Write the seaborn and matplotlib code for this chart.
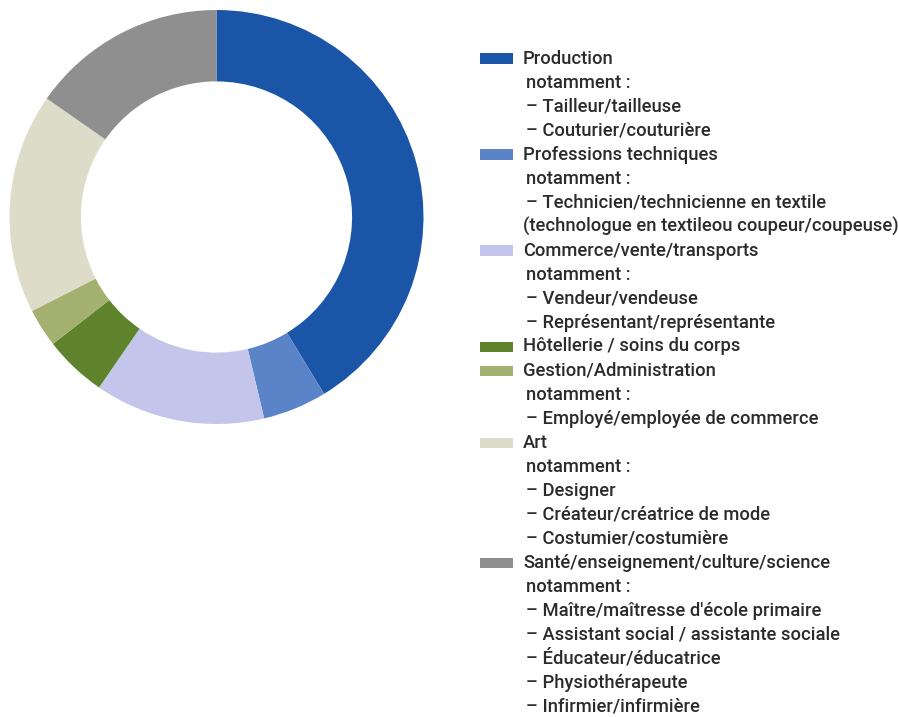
import matplotlib
matplotlib.use("Agg")
import matplotlib.pyplot as plt
from matplotlib.patches import Rectangle
import seaborn as sns

categories = ["Production", "Professions techniques", "Commerce/vente/transports",
              "Hôtellerie / soins du corps", "Gestion/Administration", "Art",
              "Santé/enseignement/culture/science"]
values = [41.3, 5.0, 13.3, 4.9, 3.0, 17.2, 15.3]
colors = ["#1a55a8", "#5b84c8", "#c3c5ea", "#5e832c", "#a3b070", "#dcdcc8", "#8f8f8f"]
details = [
    ["notamment :", "– Tailleur/tailleuse", "– Couturier/couturière"],
    ["notamment :", "– Technicien/technicienne en textile",
     "(technologue en textileou coupeur/coupeuse)"],
    ["notamment :", "– Vendeur/vendeuse", "– Représentant/représentante"],
    [],
    ["notamment :", "– Employé/employée de commerce"],
    ["notamment :", "– Designer", "– Créateur/créatrice de mode", "– Costumier/costumière"],
    ["notamment :", "– Maître/maîtresse d'école primaire",
     "– Assistant social / assistante sociale", "– Éducateur/éducatrice",
     "– Physiothérapeute", "– Infirmier/infirmière"],
]

sns.set_theme(style="white")
plt.rcParams['font.family'] = ['Roboto', 'DejaVu Sans']

W, H = 898, 717
fig = plt.figure(figsize=(W / 100, H / 100), dpi=100)
cx, cy, R = 216.5, 217, 207
ax = fig.add_axes([(cx - R) / W, 1 - (cy + R) / H, 2 * R / W, 2 * R / H])
ax.pie(values, colors=colors, startangle=90, counterclock=False,
       wedgeprops=dict(width=0.345, linewidth=0))
ax.set_xlim(-1, 1)
ax.set_ylim(-1, 1)
ax.set_aspect("equal")
ax.axis("off")

y = 58.5
step = 24
txt_color = "#2b2b2b"
fs = 13.2
for cat, col, det in zip(categories, colors, details):
    fig.add_artist(Rectangle((480 / W, 1 - (y + 5) / H), 33 / W, 10 / H,
                             transform=fig.transFigure, facecolor=col, edgecolor="none"))
    fig.text(523 / W, 1 - y / H, cat, fontsize=fs, fontweight="medium",
             color=txt_color, va="center", ha="left")
    y += step
    for d in det:
        xx = 523 if d.startswith("(") else 526
        fig.text(xx / W, 1 - y / H, d, fontsize=fs, fontweight="medium",
                 color=txt_color, va="center", ha="left")
        y += step

fig.savefig("out.png", dpi=100, facecolor="white")
